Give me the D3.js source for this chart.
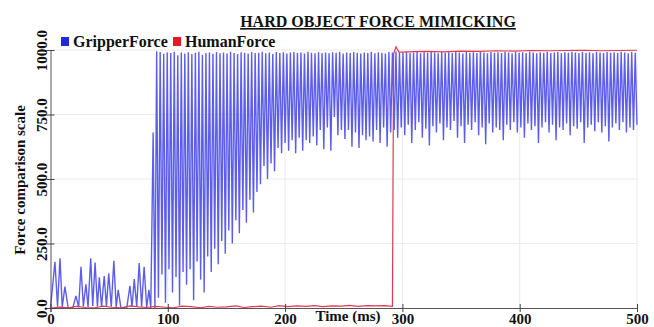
<!DOCTYPE html>
<html>
<head>
<meta charset="utf-8">
<script src="https://cdn.jsdelivr.net/npm/d3@7"></script>
<style>
  body { margin: 0; background: #fff; }
  text { font-family: "Liberation Serif", "Times New Roman", serif; font-weight: bold; fill: #111; }
</style>
</head>
<body>
<div id="chart"></div>
<script>
// gripper force, first 85 ms (isolated spikes)
const earlyTimes = [0, 3.8, 6, 8.1, 10, 12.3, 15, 19, 21.7, 24, 26, 28, 30.2, 32, 34.3, 36, 38, 40, 41.6, 43.5, 45.8, 47.7, 49.6, 51.8, 54, 56, 57.7, 60, 65, 67.7, 69.5, 71.4, 73.5, 75.6, 77.7, 79.8, 82, 83.9, 85.5];
const earlyForce = [0, 179, 5, 193, 4, 83, 2, 0, 47, 3, 160, 6, 92, 4, 193, 8, 176, 5, 119, 4, 124, 6, 134, 5, 183, 3, 70, 2, 0, 86, 4, 112, 6, 174, 5, 160, 3, 70, 0];

// gripper force after contact: one peak + one trough per cycle
const cycleStart = 87.5;
const cycleMs = 3;
const gripperPeaks = [
  680, 995, 992, 985, 990, 988, 993, 980, 990, 986,
  991, 984, 989, 993, 982, 988, 990, 985, 992, 987,
  990, 986, 993, 988, 984, 991, 989, 986, 992, 988,
  989, 993, 987, 990, 985, 992, 988, 991, 986, 990,
  992, 988, 990, 986, 993, 989, 987, 991, 988, 990,
  987, 991, 989, 993, 986, 990, 988, 992, 989, 986,
  990, 988, 993, 987, 991, 989, 986, 992, 990, 994,
  991, 989, 993, 988, 990, 992, 987, 991, 989, 993,
  990, 987, 992, 989, 991, 988, 993, 990, 986, 992,
  989, 991, 988, 993, 990, 987, 992, 989, 991, 988,
  993, 990, 987, 992, 989, 991, 988, 993, 990, 987,
  991, 989, 993, 988, 990, 992, 987, 991, 989, 993,
  990, 988, 992, 989, 991, 987, 993, 990, 988, 992,
  989, 991, 988, 993, 990, 987, 992, 989
];
const gripperTroughs = [
  0, 40, 130, 20, 150, 60, 120, 10, 140, 90,
  150, 30, 180, 110, 60, 200, 140, 230, 170, 260,
  210, 300, 250, 340, 290, 380, 330, 420, 370, 450,
  480, 550, 500, 560, 530, 620, 600, 640, 610, 650,
  600, 660, 610, 650, 640, 665, 630, 690, 615, 700,
  610, 740, 670, 690, 655, 690, 625, 680, 620, 670,
  650, 665, 645, 690, 640, 700, 625, 680, 690, 660,
  700, 670, 710, 640, 690, 720, 660, 695, 630, 705,
  680, 715, 650, 700, 690, 725, 660, 705, 640, 710,
  690, 720, 670, 700, 635, 715, 680, 700, 690, 650,
  710, 690, 720, 680, 700, 660, 715, 690, 705, 640,
  700, 720, 680, 710, 650, 700, 690, 715, 670, 705,
  695, 720, 640, 700, 710, 685, 720, 680, 705, 645,
  700, 715, 690, 720, 680, 700, 690, 710
];

// human force
const humanTimes = [0, 8, 15, 22, 30, 38, 45, 52, 60, 68, 75, 82, 90, 98, 105, 112, 120, 128, 135, 142, 150, 158, 165, 172, 180, 188, 195, 202, 210, 218, 225, 232, 240, 248, 255, 262, 270, 278, 285, 291.5, 292.5, 294.5, 297, 300, 310, 320, 335, 350, 365, 380, 395, 410, 425, 440, 455, 470, 485, 500];
const humanForce = [0, 3, 1, 6, 2, 1, 7, 3, 1, 8, 4, 2, 6, 3, 1, 7, 5, 1, 6, 3, 4, 8, 2, 5, 7, 3, 9, 5, 8, 6, 9, 5, 8, 7, 10, 6, 9, 8, 9, 6, 985, 1012, 993, 992, 994, 995, 993, 996, 995, 997, 996, 998, 997, 998, 999, 997, 998, 999];

const xTicks = [0, 100, 200, 300, 400, 500];
const yTicks = [0, 250, 500, 750, 1000];

const width = 654, height = 327;

const svg = d3.select('#chart')
  .append('svg')
  .attr('width', width)
  .attr('height', height);

const xScale = d3.scaleLinear().domain([0, 500]).range([50.5, 637]);
const yScale = d3.scaleLinear().domain([0, 1000]).range([308, 50]);

// build gripper series
const gripper = earlyTimes.map((t, i) => ({ t: t, v: earlyForce[i] }));
gripperPeaks.forEach((p, i) => {
  gripper.push({ t: cycleStart + i * cycleMs, v: p });
  gripper.push({ t: cycleStart + i * cycleMs + cycleMs / 2, v: gripperTroughs[i] });
});
const human = humanTimes.map((t, i) => ({ t: t, v: humanForce[i] }));

// grid
svg.append('g')
  .selectAll('line')
  .data(xTicks.slice(1))
  .join('line')
  .attr('x1', d => xScale(d)).attr('x2', d => xScale(d))
  .attr('y1', yScale(1000)).attr('y2', yScale(0))
  .attr('stroke', '#ebebeb');

svg.append('g')
  .selectAll('line')
  .data(yTicks.slice(1))
  .join('line')
  .attr('x1', xScale(0)).attr('x2', xScale(500))
  .attr('y1', d => yScale(d)).attr('y2', d => yScale(d))
  .attr('stroke', '#ebebeb');

const line = d3.line()
  .x(d => xScale(d.t))
  .y(d => yScale(d.v));

svg.append('path')
  .datum(gripper)
  .attr('d', line)
  .attr('fill', 'none')
  .attr('stroke', '#5d5dec')
  .attr('stroke-width', 1.4);

svg.append('path')
  .datum(human)
  .attr('d', line)
  .attr('fill', 'none')
  .attr('stroke', '#e03a50')
  .attr('stroke-width', 1.2);

// axes
const xAxis = svg.append('g')
  .attr('transform', `translate(0,${yScale(0)})`)
  .call(d3.axisBottom(xScale).tickValues(xTicks).tickSize(4).tickPadding(1).tickFormat(d3.format('d')));

xAxis.selectAll('.tick line').attr('y1', -4).attr('y2', 4);

const yAxis = svg.append('g')
  .attr('transform', `translate(${xScale(0)},0)`)
  .call(d3.axisLeft(yScale).tickValues(yTicks).tickSize(4).tickFormat(d3.format('.1f')));

yAxis.selectAll('.tick line').attr('x1', 4).attr('x2', -4);
yAxis.selectAll('.tick text')
  .attr('transform', 'rotate(-90)')
  .attr('text-anchor', 'middle')
  .attr('x', 0)
  .attr('y', -4)
  .attr('dy', 0);

svg.selectAll('.domain').attr('stroke', '#555');
svg.selectAll('.tick line').attr('stroke', '#444');
svg.selectAll('.tick text')
  .style('font-family', '"Liberation Serif", serif')
  .style('font-weight', 'bold')
  .style('font-size', '15px')
  .attr('fill', '#111');

// labels
svg.append('text')
  .attr('x', 348).attr('y', 321)
  .attr('text-anchor', 'middle')
  .style('font-size', '15px')
  .text('Time (ms)');

svg.append('text')
  .attr('transform', 'translate(25,180) rotate(-90)')
  .attr('text-anchor', 'middle')
  .style('font-size', '15px')
  .text('Force comparison scale');

svg.append('text')
  .attr('x', 378).attr('y', 27)
  .attr('text-anchor', 'middle')
  .style('font-size', '16px')
  .style('text-decoration', 'underline')
  .text('HARD OBJECT FORCE MIMICKING');

// legend
const legend = [
  { name: 'GripperForce', color: '#1f2bd6', x: 61 },
  { name: 'HumanForce', color: '#e01b24', x: 173 }
];
const lg = svg.append('g');
lg.selectAll('rect')
  .data(legend)
  .join('rect')
  .attr('x', d => d.x).attr('y', 37)
  .attr('width', 8).attr('height', 9)
  .attr('fill', d => d.color);
lg.selectAll('text')
  .data(legend)
  .join('text')
  .attr('x', d => d.x + 12).attr('y', 47)
  .style('font-size', '16px')
  .text(d => d.name);
</script>
</body>
</html>
